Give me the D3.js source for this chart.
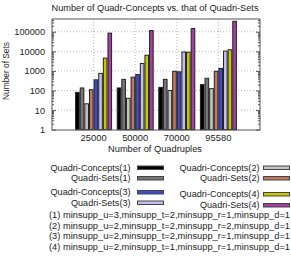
<!DOCTYPE html>
<html>
<head>
<meta charset="utf-8">
<script src="https://cdn.jsdelivr.net/npm/d3@7"></script>
<style>
  body { margin: 0; background: #fff; }
  text { font-family: "Liberation Sans", Arial, sans-serif; fill: #222; }
</style>
</head>
<body>
<div class="chart"></div>
<script>
// Data
const categories = ["25000", "50000", "70000", "95580"];
const seriesNames = [
    "Quadri-Concepts(1)", "Quadri-Sets(1)", "Quadri-Concepts(2)", "Quadri-Sets(2)",
    "Quadri-Concepts(3)", "Quadri-Sets(3)", "Quadri-Concepts(4)", "Quadri-Sets(4)"
];
const qc1 = [80, 135, 145, 200];
const qs1 = [135, 370, 370, 420];
const qc2 = [21, 40, 100, 125];
const qs2 = [110, 480, 950, 950];
const qc3 = [350, 650, 900, 1350];
const qs3 = [750, 2400, 9200, 10300];
const qc4 = [4500, 6300, 9000, 12000];
const qs4 = [85000, 115000, 145000, 340000];
const yTicks = [1, 10, 100, 1000, 10000, 100000];
const footnotes = [
    "(1) minsupp_u=3,minsupp_t=2,minsupp_r=1,minsupp_d=1",
    "(2) minsupp_u=2,minsupp_t=2,minsupp_r=2,minsupp_d=1",
    "(3) minsupp_u=2,minsupp_t=2,minsupp_r=1,minsupp_d=1",
    "(4) minsupp_u=2,minsupp_t=1,minsupp_r=1,minsupp_d=1"
];

const values = [qc1, qs1, qc2, qs2, qc3, qs3, qc4, qs4];
const colors = ["#000000", "#767676", "#c4c4c4", "#c07a58", "#4048d0", "#c4c0ec", "#c8c800", "#a440a4"];

const width = 291, height = 256;
const plot = { left: 52, right: 260, top: 19, bottom: 130 };

const svg = d3.select('.chart')
    .append('svg')
    .attr('width', width)
    .attr('height', height);

svg.append('rect').attr('width', width).attr('height', height).attr('fill', '#fff');

// Scales
const x = d3.scaleLinear().domain([-1, 4]).range([plot.left, plot.right]);
const inner = d3.scaleBand().domain(seriesNames).range([-4 / 9, 4 / 9]);
const y = d3.scaleLog().domain([1, Math.pow(10, 5.65)]).range([plot.bottom - 0.3, plot.top]);

// Grid
svg.append('g')
    .selectAll('line')
    .data(yTicks.slice(1))
    .join('line')
    .attr('x1', plot.left).attr('x2', plot.right)
    .attr('y1', d => y(d)).attr('y2', d => y(d))
    .attr('stroke', '#aaa')
    .attr('stroke-width', 0.8)
    .attr('stroke-dasharray', '1,2');

svg.append('g')
    .selectAll('line')
    .data(categories)
    .join('line')
    .attr('x1', (d, i) => x(i)).attr('x2', (d, i) => x(i))
    .attr('y1', plot.top).attr('y2', plot.bottom)
    .attr('stroke', '#aaa')
    .attr('stroke-width', 0.8)
    .attr('stroke-dasharray', '1,2');

// Bars
const barW = x(1 / 9) - x(0);
seriesNames.forEach((name, s) => {
    svg.append('g')
        .selectAll('rect')
        .data(values[s])
        .join('rect')
        .attr('x', (d, i) => x(i + inner(name)) + 0.5)
        .attr('y', d => y(d))
        .attr('width', barW - 1)
        .attr('height', d => y(1) - y(d))
        .attr('fill', colors[s])
        .attr('stroke', '#222')
        .attr('stroke-width', 1);
});

// Frame
svg.append('rect')
    .attr('x', plot.left).attr('y', plot.top)
    .attr('width', plot.right - plot.left).attr('height', plot.bottom - plot.top)
    .attr('fill', 'none')
    .attr('stroke', '#555');

// Minor ticks for log axis
const minor = [];
for (let e = 0; e < 6; e++) {
    for (let m = 2; m < 10; m++) {
        const v = m * Math.pow(10, e);
        if (v < y.domain()[1]) minor.push(v);
    }
}

function yAxis(gen, tx) {
    const g = svg.append('g')
        .attr('transform', `translate(${tx},0)`)
        .call(gen);
    g.select('.domain').remove();
    g.selectAll('.tick line').attr('stroke', '#555');
    return g;
}

const left = yAxis(d3.axisLeft(y).tickValues(yTicks).tickSize(-4).tickPadding(7).tickFormat(d3.format('d')), plot.left);
left.selectAll('text')
    .attr('font-size', '9.2px')
    .attr('fill', '#222')
    .attr('font-family', '"Liberation Sans", Arial, sans-serif');
yAxis(d3.axisLeft(y).tickValues(minor).tickSize(-2).tickFormat(''), plot.left);
yAxis(d3.axisRight(y).tickValues(yTicks).tickSize(-4).tickFormat(''), plot.right);
yAxis(d3.axisRight(y).tickValues(minor).tickSize(-2).tickFormat(''), plot.right);

// X tick labels
svg.append('g')
    .selectAll('text')
    .data(categories)
    .join('text')
    .attr('x', (d, i) => x(i))
    .attr('y', 141)
    .attr('text-anchor', 'middle')
    .attr('font-size', '9.4px')
    .text(d => d);

// Titles
svg.append('text')
    .attr('x', 155).attr('y', 10.6)
    .attr('text-anchor', 'middle')
    .attr('font-size', '9.6px')
    .attr('textLength', 207)
    .attr('lengthAdjust', 'spacingAndGlyphs')
    .text('Number of Quadr-Concepts vs. that of Quadri-Sets');

svg.append('text')
    .attr('x', 155).attr('y', 152.3)
    .attr('text-anchor', 'middle')
    .attr('font-size', '9.6px')
    .attr('textLength', 94)
    .attr('lengthAdjust', 'spacingAndGlyphs')
    .text('Number of Quadruples');

svg.append('text')
    .attr('transform', 'translate(9.3,71) rotate(-90)')
    .attr('text-anchor', 'middle')
    .attr('font-size', '9.6px')
    .attr('textLength', 58)
    .attr('lengthAdjust', 'spacingAndGlyphs')
    .text('Number of Sets');

// Legend
const legendPos = [
    { tx: 130.5, sx: 137, cy: 167.5 }, { tx: 130.5, sx: 137, cy: 178 },
    { tx: 259.5, sx: 263, cy: 167.5 }, { tx: 259.5, sx: 263, cy: 178 },
    { tx: 130.5, sx: 137, cy: 192 }, { tx: 130.5, sx: 137, cy: 202.5 },
    { tx: 259.5, sx: 263, cy: 194 }, { tx: 259.5, sx: 263, cy: 205 }
];

const legend = svg.append('g')
    .selectAll('g')
    .data(seriesNames)
    .join('g');

legend.append('text')
    .attr('x', (d, i) => legendPos[i].tx)
    .attr('y', (d, i) => legendPos[i].cy + 3.3)
    .attr('text-anchor', 'end')
    .attr('font-size', '9.4px')
    .attr('textLength', d => d.startsWith('Quadri-Concepts') ? 80 : 59.5)
    .attr('lengthAdjust', 'spacingAndGlyphs')
    .text(d => d);

legend.append('rect')
    .attr('x', (d, i) => legendPos[i].sx + 0.5)
    .attr('y', (d, i) => legendPos[i].cy - 1.5)
    .attr('width', 26)
    .attr('height', 3.5)
    .attr('fill', (d, i) => colors[i])
    .attr('stroke', '#444')
    .attr('stroke-width', 1);

// Footnotes
svg.append('g')
    .selectAll('text')
    .data(footnotes)
    .join('text')
    .attr('x', 49)
    .attr('y', (d, i) => 218.4 + i * 10.5)
    .attr('font-size', '9.2px')
    .attr('textLength', 241)
    .attr('lengthAdjust', 'spacingAndGlyphs')
    .text(d => d);
</script>
</body>
</html>
